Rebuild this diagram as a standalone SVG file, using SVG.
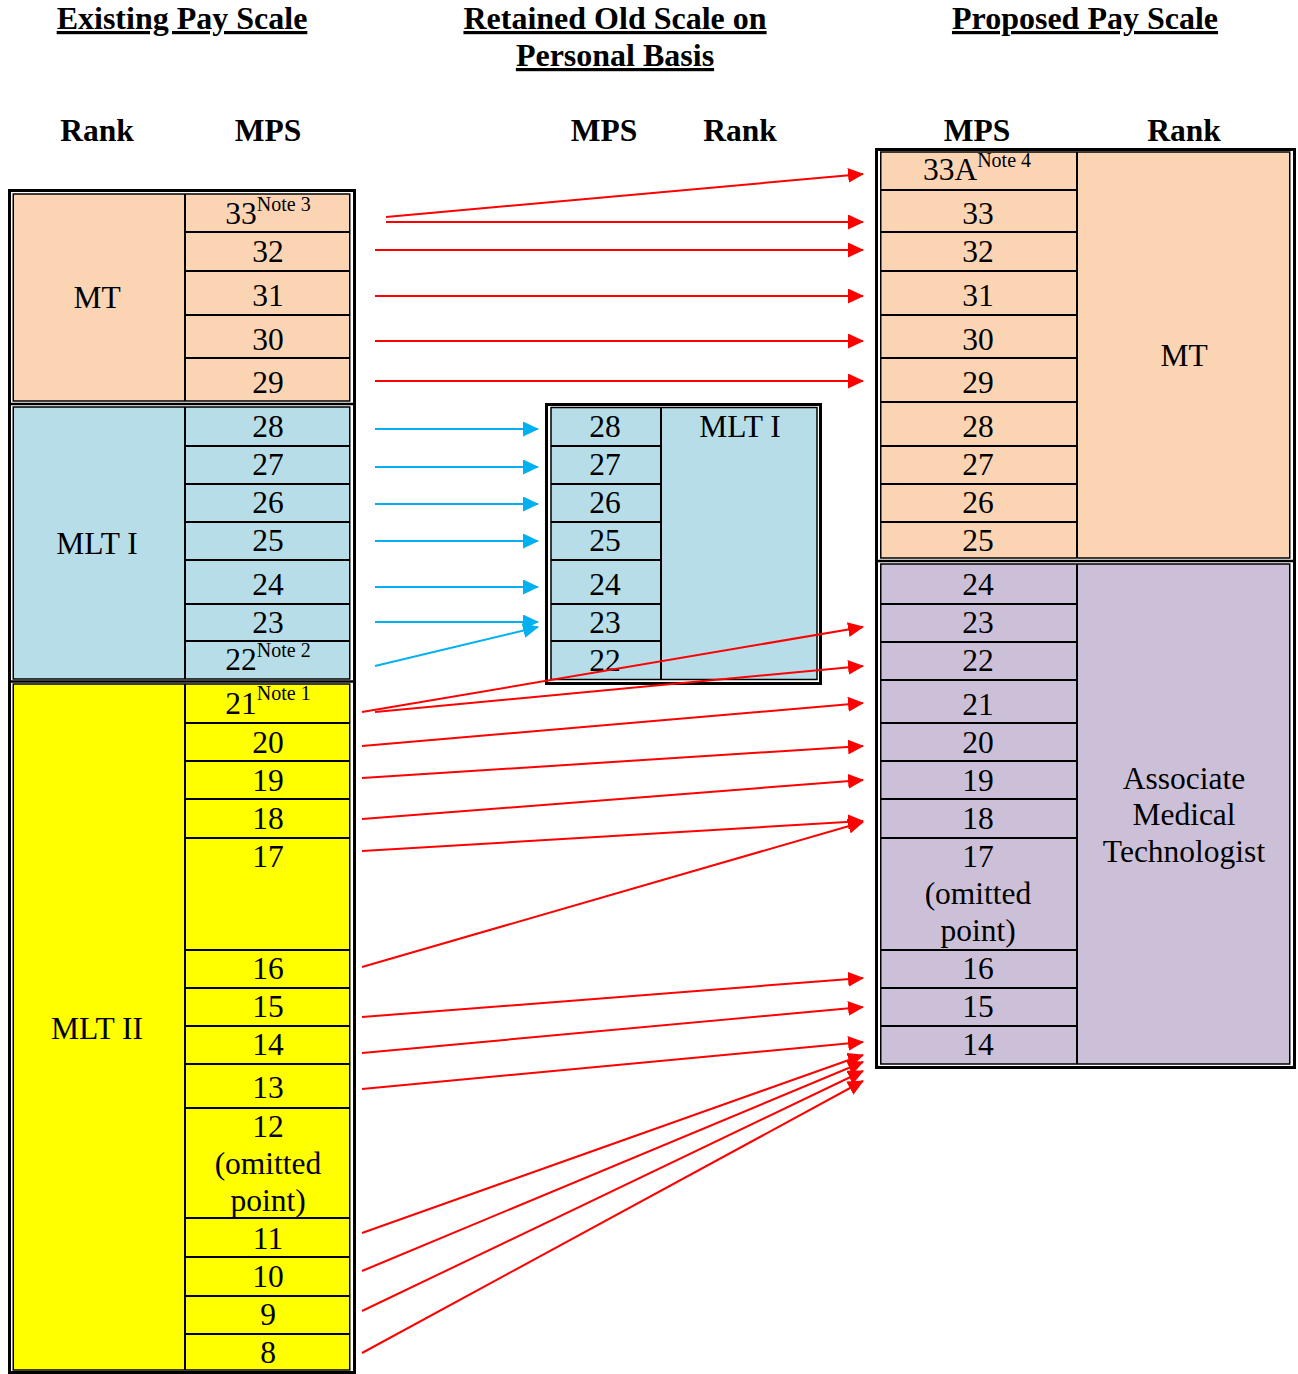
<svg xmlns="http://www.w3.org/2000/svg" width="1298" height="1374" viewBox="0 0 1298 1374">
<style>
text{font-family:"Liberation Serif","Times New Roman",serif;fill:#000}
.hd{font-size:32px;font-weight:bold;text-anchor:middle;text-decoration:underline}
.ch{font-size:31.5px;font-weight:bold;text-anchor:middle}
.t{font-size:31.5px;text-anchor:middle}
.sup{font-size:20px}
.ob{fill:none;stroke:#000;stroke-width:3}
.sec{stroke:#000;stroke-width:1.5}
.ln{stroke:#000;stroke-width:2}
.sep{stroke:#000;stroke-width:2.5}
.mt{fill:#FBD4B4}.bl{fill:#B6DDE8}.ye{fill:#FFFF00}.pu{fill:#CCC0D9}
.r{stroke:#FF0000;stroke-width:2;fill:none;marker-end:url(#ar)}
.b{stroke:#00B0F0;stroke-width:2;fill:none;marker-end:url(#ab)}
</style>
<defs>
<marker id="ar" markerUnits="userSpaceOnUse" markerWidth="16" markerHeight="15" refX="15" refY="7.5" orient="auto"><path d="M0,0L16,7.5L0,15z" fill="#FF0000"/></marker>
<marker id="ab" markerUnits="userSpaceOnUse" markerWidth="16" markerHeight="15" refX="15" refY="7.5" orient="auto"><path d="M0,0L16,7.5L0,15z" fill="#00B0F0"/></marker>
</defs>
<rect width="1298" height="1374" fill="#fff"/>

<g id="headings">
<text class="hd" x="182" y="29">Existing Pay Scale</text>
<text class="hd" x="615" y="29">Retained Old Scale on</text>
<text class="hd" x="615" y="66">Personal Basis</text>
<text class="hd" x="1085" y="29">Proposed Pay Scale</text>
<text class="ch" x="97" y="141">Rank</text>
<text class="ch" x="268" y="141">MPS</text>
<text class="ch" x="604" y="141">MPS</text>
<text class="ch" x="740" y="141">Rank</text>
<text class="ch" x="977" y="141">MPS</text>
<text class="ch" x="1184" y="141">Rank</text>
</g>

<g id="existing-table">
<rect class="ob" x="9.5" y="190.5" width="345" height="1182"/>
<line class="sep" x1="9" y1="404" x2="355" y2="404"/>
<line class="sep" x1="9" y1="681.5" x2="355" y2="681.5"/>
</g>

<g id="existing-mt">
<rect class="mt sec" x="13.25" y="194" width="336.5" height="207"/>
<line class="ln" x1="185" y1="194" x2="185" y2="401"/>
<line class="ln" x1="185" y1="232" x2="350" y2="232"/>
<line class="ln" x1="185" y1="271" x2="350" y2="271"/>
<line class="ln" x1="185" y1="315" x2="350" y2="315"/>
<line class="ln" x1="185" y1="358" x2="350" y2="358"/>
<text class="t" x="97" y="308">MT</text>
<text class="t" x="268" y="224">33<tspan class="sup" dy="-13">Note 3</tspan></text>
<text class="t" x="268" y="262">32</text>
<text class="t" x="268" y="306">31</text>
<text class="t" x="268" y="350">30</text>
<text class="t" x="268" y="393">29</text>
</g>

<g id="existing-mlt1">
<rect class="bl sec" x="13.25" y="407" width="336.5" height="272"/>
<line class="ln" x1="185" y1="407" x2="185" y2="679"/>
<line class="ln" x1="185" y1="446" x2="350" y2="446"/>
<line class="ln" x1="185" y1="484" x2="350" y2="484"/>
<line class="ln" x1="185" y1="522" x2="350" y2="522"/>
<line class="ln" x1="185" y1="560" x2="350" y2="560"/>
<line class="ln" x1="185" y1="604" x2="350" y2="604"/>
<line class="ln" x1="185" y1="641" x2="350" y2="641"/>
<text class="t" x="97" y="554">MLT I</text>
<text class="t" x="268" y="437">28</text>
<text class="t" x="268" y="475">27</text>
<text class="t" x="268" y="513">26</text>
<text class="t" x="268" y="551">25</text>
<text class="t" x="268" y="595">24</text>
<text class="t" x="268" y="633">23</text>
<text class="t" x="268" y="670">22<tspan class="sup" dy="-13">Note 2</tspan></text>
</g>

<g id="existing-mlt2">
<rect class="ye sec" x="13.25" y="684" width="336.5" height="686"/>
<line class="ln" x1="185" y1="684" x2="185" y2="1370"/>
<line class="ln" x1="185" y1="723" x2="350" y2="723"/>
<line class="ln" x1="185" y1="761" x2="350" y2="761"/>
<line class="ln" x1="185" y1="799" x2="350" y2="799"/>
<line class="ln" x1="185" y1="838" x2="350" y2="838"/>
<line class="ln" x1="185" y1="950" x2="350" y2="950"/>
<line class="ln" x1="185" y1="988" x2="350" y2="988"/>
<line class="ln" x1="185" y1="1026" x2="350" y2="1026"/>
<line class="ln" x1="185" y1="1064" x2="350" y2="1064"/>
<line class="ln" x1="185" y1="1108" x2="350" y2="1108"/>
<line class="ln" x1="185" y1="1218" x2="350" y2="1218"/>
<line class="ln" x1="185" y1="1257" x2="350" y2="1257"/>
<line class="ln" x1="185" y1="1296" x2="350" y2="1296"/>
<line class="ln" x1="185" y1="1334" x2="350" y2="1334"/>
<text class="t" x="97" y="1039">MLT II</text>
<text class="t" x="268" y="714">21<tspan class="sup" dy="-14">Note 1</tspan></text>
<text class="t" x="268" y="753">20</text>
<text class="t" x="268" y="791">19</text>
<text class="t" x="268" y="829">18</text>
<text class="t" x="268" y="867">17</text>
<text class="t" x="268" y="979">16</text>
<text class="t" x="268" y="1017">15</text>
<text class="t" x="268" y="1055">14</text>
<text class="t" x="268" y="1098">13</text>
<text class="t" x="268" y="1137">12</text>
<text class="t" x="268" y="1174">(omitted</text>
<text class="t" x="268" y="1211">point)</text>
<text class="t" x="268" y="1249">11</text>
<text class="t" x="268" y="1287">10</text>
<text class="t" x="268" y="1325">9</text>
<text class="t" x="268" y="1363">8</text>
</g>

<g id="retained-mlt1">
<rect class="ob" x="546.5" y="404.5" width="274" height="279"/>
<rect class="bl sec" x="551" y="407.5" width="266" height="272"/>
<line class="ln" x1="661" y1="407" x2="661" y2="680"/>
<line class="ln" x1="551" y1="446" x2="661" y2="446"/>
<line class="ln" x1="551" y1="484" x2="661" y2="484"/>
<line class="ln" x1="551" y1="522" x2="661" y2="522"/>
<line class="ln" x1="551" y1="560" x2="661" y2="560"/>
<line class="ln" x1="551" y1="604" x2="661" y2="604"/>
<line class="ln" x1="551" y1="641" x2="661" y2="641"/>
<text class="t" x="740" y="437">MLT I</text>
<text class="t" x="605" y="437">28</text>
<text class="t" x="605" y="475">27</text>
<text class="t" x="605" y="513">26</text>
<text class="t" x="605" y="551">25</text>
<text class="t" x="605" y="595">24</text>
<text class="t" x="605" y="633">23</text>
<text class="t" x="605" y="671">22</text>
</g>

<g id="proposed-table">
<rect class="ob" x="876.5" y="149.5" width="418" height="918"/>
<line class="sep" x1="876" y1="561" x2="1296" y2="561"/>
</g>

<g id="proposed-mt">
<rect class="mt sec" x="880.75" y="152" width="409" height="406"/>
<line class="ln" x1="1077" y1="152" x2="1077" y2="558"/>
<line class="ln" x1="881" y1="190" x2="1077" y2="190"/>
<line class="ln" x1="881" y1="232" x2="1077" y2="232"/>
<line class="ln" x1="881" y1="271" x2="1077" y2="271"/>
<line class="ln" x1="881" y1="315" x2="1077" y2="315"/>
<line class="ln" x1="881" y1="358" x2="1077" y2="358"/>
<line class="ln" x1="881" y1="402" x2="1077" y2="402"/>
<line class="ln" x1="881" y1="446" x2="1077" y2="446"/>
<line class="ln" x1="881" y1="484" x2="1077" y2="484"/>
<line class="ln" x1="881" y1="522" x2="1077" y2="522"/>
<text class="t" x="1184" y="366">MT</text>
<text class="t" x="977" y="180">33A<tspan class="sup" dy="-13">Note 4</tspan></text>
<text class="t" x="978" y="224">33</text>
<text class="t" x="978" y="262">32</text>
<text class="t" x="978" y="306">31</text>
<text class="t" x="978" y="350">30</text>
<text class="t" x="978" y="393">29</text>
<text class="t" x="978" y="437">28</text>
<text class="t" x="978" y="475">27</text>
<text class="t" x="978" y="513">26</text>
<text class="t" x="978" y="551">25</text>
</g>

<g id="proposed-amt">
<rect class="pu sec" x="880.75" y="564" width="409" height="500"/>
<line class="ln" x1="1077" y1="564" x2="1077" y2="1064"/>
<line class="ln" x1="881" y1="604" x2="1077" y2="604"/>
<line class="ln" x1="881" y1="642" x2="1077" y2="642"/>
<line class="ln" x1="881" y1="680" x2="1077" y2="680"/>
<line class="ln" x1="881" y1="723" x2="1077" y2="723"/>
<line class="ln" x1="881" y1="761" x2="1077" y2="761"/>
<line class="ln" x1="881" y1="799" x2="1077" y2="799"/>
<line class="ln" x1="881" y1="838" x2="1077" y2="838"/>
<line class="ln" x1="881" y1="950" x2="1077" y2="950"/>
<line class="ln" x1="881" y1="988" x2="1077" y2="988"/>
<line class="ln" x1="881" y1="1026" x2="1077" y2="1026"/>
<text class="t" x="1184" y="789">Associate</text>
<text class="t" x="1184" y="825">Medical</text>
<text class="t" x="1184" y="862">Technologist</text>
<text class="t" x="978" y="595">24</text>
<text class="t" x="978" y="633">23</text>
<text class="t" x="978" y="671">22</text>
<text class="t" x="978" y="715">21</text>
<text class="t" x="978" y="753">20</text>
<text class="t" x="978" y="791">19</text>
<text class="t" x="978" y="829">18</text>
<text class="t" x="978" y="867">17</text>
<text class="t" x="978" y="904">(omitted</text>
<text class="t" x="978" y="941">point)</text>
<text class="t" x="978" y="979">16</text>
<text class="t" x="978" y="1017">15</text>
<text class="t" x="978" y="1055">14</text>
</g>

<g id="connectors">
<line class="r" x1="386" y1="217" x2="863" y2="174"/>
<line class="r" x1="386" y1="222" x2="863" y2="222"/>
<line class="r" x1="375" y1="250" x2="863" y2="250"/>
<line class="r" x1="375" y1="296" x2="863" y2="296"/>
<line class="r" x1="375" y1="341" x2="863" y2="341"/>
<line class="r" x1="375" y1="381" x2="863" y2="381"/>
<line class="b" x1="375" y1="429" x2="538" y2="429"/>
<line class="b" x1="375" y1="467" x2="538" y2="467"/>
<line class="b" x1="375" y1="504" x2="538" y2="504"/>
<line class="b" x1="375" y1="541" x2="538" y2="541"/>
<line class="b" x1="375" y1="587" x2="538" y2="587"/>
<line class="b" x1="375" y1="622" x2="538" y2="622"/>
<line class="b" x1="375" y1="666" x2="538" y2="627"/>
<line class="r" x1="362" y1="712" x2="863" y2="627"/>
<line class="r" x1="375" y1="712" x2="863" y2="666"/>
<line class="r" x1="362" y1="746" x2="863" y2="703"/>
<line class="r" x1="362" y1="778" x2="863" y2="746"/>
<line class="r" x1="362" y1="819" x2="863" y2="780"/>
<line class="r" x1="362" y1="851" x2="863" y2="821"/>
<line class="r" x1="362" y1="967" x2="863" y2="822"/>
<line class="r" x1="362" y1="1017" x2="863" y2="978"/>
<line class="r" x1="362" y1="1053" x2="863" y2="1007"/>
<line class="r" x1="362" y1="1089" x2="863" y2="1042"/>
<line class="r" x1="362" y1="1233" x2="863" y2="1055"/>
<line class="r" x1="362" y1="1271" x2="863" y2="1062"/>
<line class="r" x1="362" y1="1311" x2="863" y2="1071"/>
<line class="r" x1="362" y1="1353" x2="863" y2="1081"/>
</g>
</svg>
